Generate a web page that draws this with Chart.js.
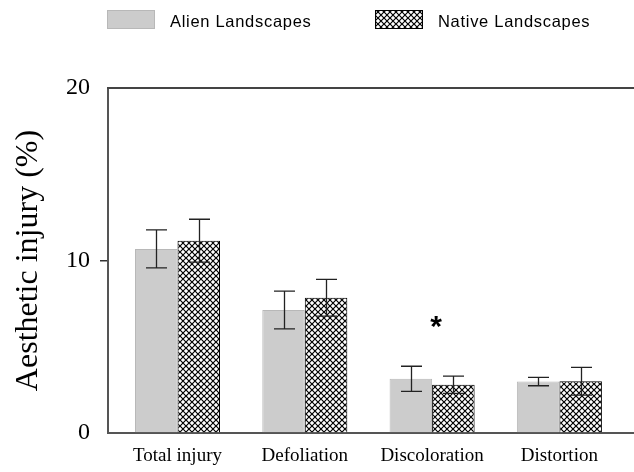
<!DOCTYPE html>
<html>
<head>
<meta charset="utf-8">
<script src="https://cdn.jsdelivr.net/npm/chart.js@4"></script>
<style>
  html, body { margin: 0; padding: 0; background: #fff; }
  #wrap { width: 634px; height: 472px; }
</style>
</head>
<body>
<div id="wrap"><canvas id="chart" width="634" height="472"></canvas></div>
<script>
// data
const categories = ['Total injury', 'Defoliation', 'Discoloration', 'Distortion'];
const seriesNames = ['Alien Landscapes', 'Native Landscapes'];
const alienValues = [10.67, 7.13, 3.14, 2.98];
const alienErrors = [1.10, 1.09, 0.73, 0.24];
const nativeValues = [11.15, 7.84, 2.80, 3.00];
const nativeErrors = [1.24, 1.07, 0.50, 0.80];
const yTicks = [0, 10, 20];
const yTitle = 'Aesthetic injury (%)';
const starCategory = 2;
const starValue = 6.45;

// cross hatch fill for the native bars
function makeHatch() {
    const p = 6;
    const c = document.createElement('canvas');
    c.width = p; c.height = p;
    const g = c.getContext('2d');
    g.fillStyle = '#fff';
    g.fillRect(0, 0, p, p);
    g.strokeStyle = '#000';
    g.lineWidth = 1.2;
    g.beginPath();
    g.moveTo(-1, -1); g.lineTo(p + 1, p + 1);
    g.moveTo(p + 1, -1); g.lineTo(-1, p + 1);
    g.stroke();
    return g.createPattern(c, 'repeat');
}
const hatch = makeHatch();

const alienColor = '#cccccc';
const alienBorder = '#b8b8b8';

const errorBars = {
    id: 'errorBars',
    afterDatasetsDraw(chart) {
        const ctx = chart.ctx;
        const y = chart.scales.y;
        const errs = [alienErrors, nativeErrors];
        ctx.save();
        ctx.strokeStyle = '#222';
        ctx.lineWidth = 1.3;
        chart.data.datasets.forEach((ds, di) => {
            const meta = chart.getDatasetMeta(di);
            meta.data.forEach((bar, i) => {
                const v = ds.data[i].y;
                const top = y.getPixelForValue(v + errs[di][i]);
                const bot = y.getPixelForValue(v - errs[di][i]);
                const x = Math.round(bar.x) + 0.5;
                ctx.beginPath();
                ctx.moveTo(x, top); ctx.lineTo(x, bot);
                ctx.moveTo(x - 10.5, top); ctx.lineTo(x + 10.5, top);
                ctx.moveTo(x - 10.5, bot); ctx.lineTo(x + 10.5, bot);
                ctx.stroke();
            });
        });
        // significance star
        ctx.fillStyle = '#000';
        ctx.font = 'bold 30px "Liberation Sans"';
        ctx.textAlign = 'center';
        ctx.textBaseline = 'alphabetic';
        const m = ctx.measureText('*');
        const sx = chart.scales.x.getPixelForValue(starCategory) + 4;
        const sy = y.getPixelForValue(starValue) + (m.actualBoundingBoxAscent - m.actualBoundingBoxDescent) / 2;
        ctx.fillText('*', sx, sy);
        ctx.restore();
    }
};

const extras = {
    id: 'extras',
    afterDraw(chart) {
        const ctx = chart.ctx;
        const area = chart.chartArea;
        ctx.save();
        // top frame line
        ctx.strokeStyle = '#444';
        ctx.lineWidth = 2;
        ctx.beginPath();
        ctx.moveTo(area.left - 1, area.top);
        ctx.lineTo(chart.width, area.top);
        ctx.stroke();

        // y title
        ctx.fillStyle = '#000';
        ctx.font = '32px "Liberation Serif"';
        ctx.textAlign = 'center';
        ctx.textBaseline = 'alphabetic';
        ctx.translate(37, (area.top + area.bottom) / 2);
        ctx.rotate(-Math.PI / 2);
        ctx.fillText(yTitle, 0, 0);
        ctx.restore();

        // legend
        ctx.save();
        ctx.font = '16.5px "Liberation Sans"';
        ctx.letterSpacing = '0.7px';
        ctx.textBaseline = 'middle';
        ctx.fillStyle = alienColor;
        ctx.fillRect(107, 10, 48, 19);
        ctx.strokeStyle = alienBorder;
        ctx.lineWidth = 1;
        ctx.strokeRect(107.5, 10.5, 47, 18);
        ctx.fillStyle = '#000';
        ctx.fillText(seriesNames[0], 170, 22);

        ctx.fillStyle = hatch;
        ctx.fillRect(375, 10, 48, 19);
        ctx.strokeStyle = '#000';
        ctx.strokeRect(375.5, 10.5, 47, 18);
        ctx.fillStyle = '#000';
        ctx.fillText(seriesNames[1], 438, 22);
        ctx.restore();
    }
};

const ctx = document.getElementById('chart');
new Chart(ctx, {
    type: 'bar',
    data: {
        datasets: [{
            label: seriesNames[0],
            data: alienValues.map((v, i) => ({ x: i, y: v })),
            backgroundColor: alienColor,
            borderColor: alienBorder,
            borderWidth: 1
        }, {
            label: seriesNames[1],
            data: nativeValues.map((v, i) => ({ x: i, y: v })),
            backgroundColor: hatch,
            borderColor: '#000',
            borderWidth: 1
        }]
    },
    options: {
        responsive: false,
        animation: false,
        devicePixelRatio: 1,
        categoryPercentage: 0.668,
        barPercentage: 1,
        layout: { padding: { top: 88, right: 0, left: 0, bottom: 0 } },
        plugins: {
            legend: { display: false },
            tooltip: { enabled: false }
        },
        scales: {
            x: {
                type: 'linear',
                offset: false,
                min: -0.546,
                max: 3.586,
                afterFit(s) { s.height = 39; },
                afterBuildTicks(s) { s.ticks = categories.map((c, i) => ({ value: i })); },
                grid: { drawOnChartArea: false, drawTicks: false, offset: false },
                border: { color: '#555', width: 2 },
                ticks: {
                    padding: 12,
                    color: '#000',
                    font: { family: 'Liberation Serif', size: 19 },
                    callback: (v) => categories[v]
                }
            },
            y: {
                min: 0,
                max: 20,
                afterFit(s) { s.width = 108; },
                afterBuildTicks(s) { s.ticks = yTicks.map(v => ({ value: v })); },
                grid: {
                    drawOnChartArea: false,
                    drawTicks: true,
                    tickLength: 8,
                    lineWidth: 1.5,
                    color: (c) => (c.tick && c.tick.value === 10) ? '#333' : 'rgba(0,0,0,0)'
                },
                border: { color: '#555', width: 2 },
                ticks: {
                    padding: 10,
                    color: '#000',
                    font: { family: 'Liberation Serif', size: 24 }
                }
            }
        }
    },
    plugins: [errorBars, extras]
});
</script>
</body>
</html>
